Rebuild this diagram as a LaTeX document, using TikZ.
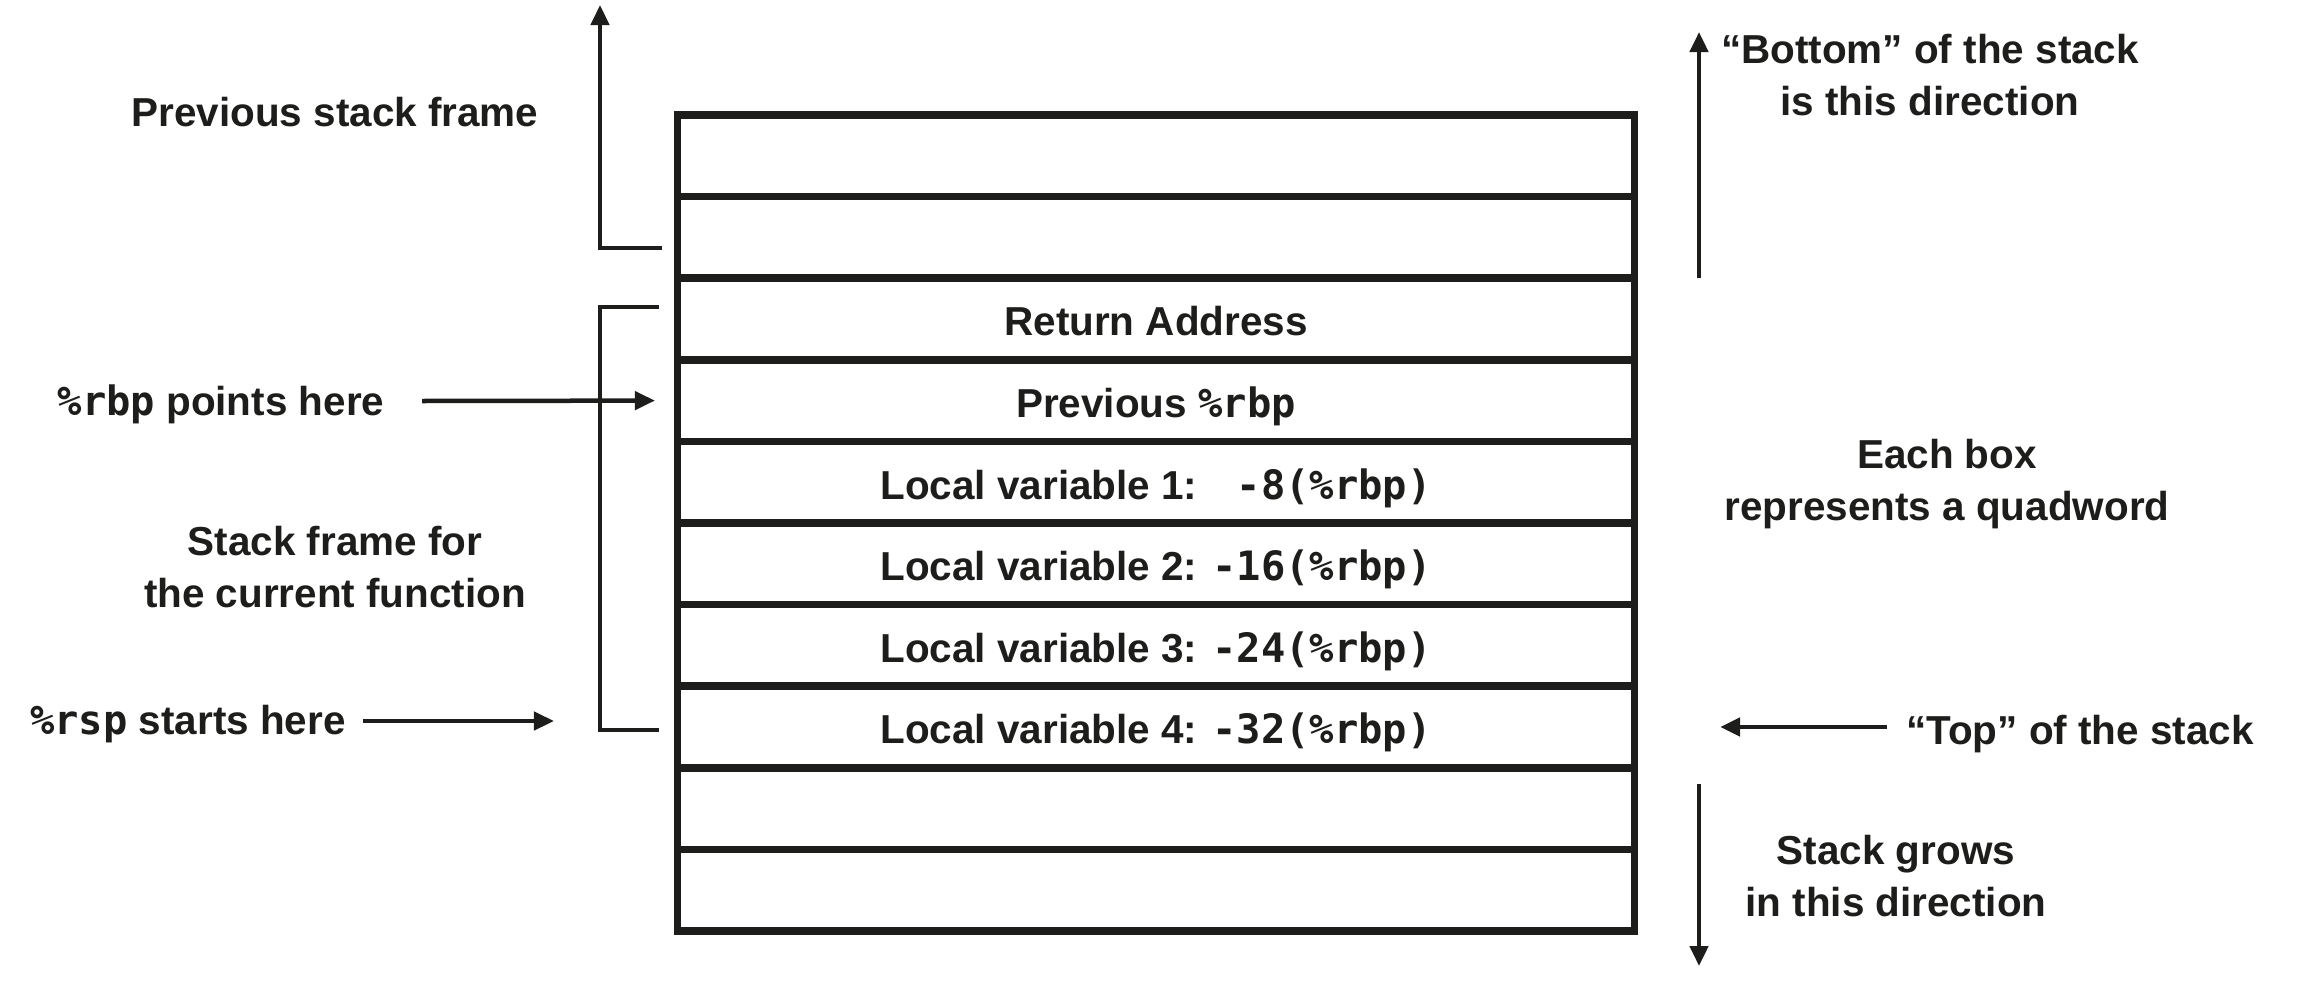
\documentclass[tikz,border=0pt]{standalone}
\usepackage{fontspec}
\setmainfont{Liberation Sans}
\newfontfamily\codefont{DejaVu Sans Mono}
\usetikzlibrary{arrows.meta}
\definecolor{ink}{RGB}{29,29,27}
\newcommand{\reg}[1]{{\codefont\bfseries #1}}

\begin{document}
\begin{tikzpicture}[x=0.01cm, y=-0.01cm, font=\fontsize{11.5}{14.6}\selectfont\bfseries]
  \tikzset{
    cell/.style={rectangle, draw=ink, line width=0.075cm, minimum width=9.56cm, minimum height=0.816cm, inner sep=0pt, text height=9.6pt, text depth=0pt, text=ink},
    lbl/.style={align=center, inner sep=0pt, text=ink},
    arr/.style={draw=ink, line width=0.045cm, -{Triangle[length=0.2cm, width=0.18cm]}},
    brk/.style={draw=ink, line width=0.045cm}
  }
  \useasboundingbox (0,0) rectangle (2306,1000);

  % the stack, one quadword per box
  \foreach \i/\txt in {1/, 2/, 3/Return Address, 4/Previous \reg{\%rbp},
      5/Local variable 1: \reg{~-8(\%rbp)}, 6/Local variable 2: \reg{-16(\%rbp)},
      7/Local variable 3: \reg{-24(\%rbp)}, 8/Local variable 4: \reg{-32(\%rbp)}, 9/, 10/}
    \node[cell] (c\i) at (1156, {115+81.6*(\i-0.5)}) {\txt};

  % left side
  \node[lbl] (prevtxt) at (335,112) {Previous stack frame};
  \coordinate (pfa) at (662,248);
  \coordinate (pfb) at (600,5);
  \draw[arr] (pfa) -| (pfb);

  \node[lbl] (rbptxt) at (221,404) {\reg{\%rbp} points here};
  \coordinate (rbpstart) at (422,401);
  \draw[arr] (rbpstart) -- ([xshift=-0.19cm]c4.west);

  \node[lbl] (frametxt) at (335,567) {Stack frame for\\the current function};
  \coordinate (cfa) at (659,307);
  \coordinate (cfb) at (659,730);
  \draw[brk] (cfa) -- (600,307) -- (600,730) -- (cfb);

  \node[lbl] (rsptxt) at (188,724) {\reg{\%rsp} starts here};
  \coordinate (rspstart) at (363,721);
  \coordinate (rspend) at (554,721);
  \draw[arr] (rspstart) -- (rspend);

  % right side
  \coordinate (botlo) at (1699,278);
  \coordinate (bothi) at (1699,32);
  \draw[arr] (botlo) -- (bothi);
  \node[lbl] (bottxt) at (1930,75) {``Bottom'' of the stack\\is this direction};

  \node[lbl] (eachtxt) at (1947,484) {Each box\\represents a quadword};

  \node[lbl] (toptxt) at (2080,734) {``Top'' of the stack};
  \coordinate (topstart) at (1887,727);
  \draw[arr] (topstart) -- ([xshift=0.82cm]c8.east);

  \coordinate (grotop) at (1699,784);
  \coordinate (grobot) at (1699,966);
  \draw[arr] (grotop) -- (grobot);
  \node[lbl] (growtxt) at (1896,876) {Stack grows\\in this direction};
\end{tikzpicture}
\end{document}
